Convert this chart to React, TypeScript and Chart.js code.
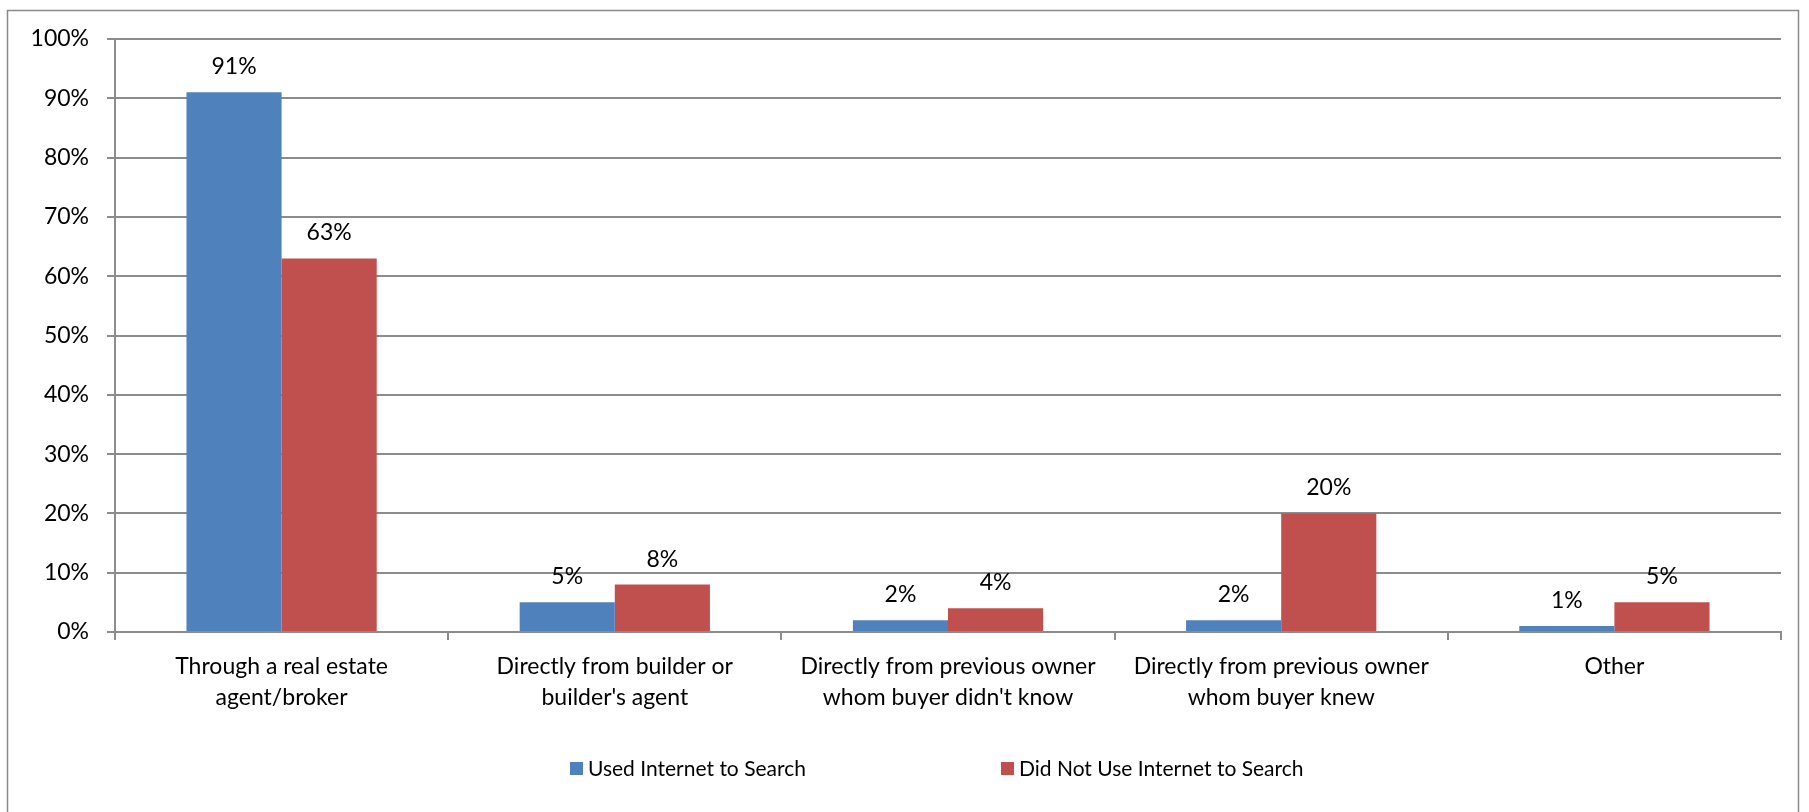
import React, { useEffect, useRef } from "react";
import { Chart, registerables } from "chart.js";

Chart.register(...registerables);

const categories: string[][] = [
  ["Through a real estate", "agent/broker"],
  ["Directly from builder or", "builder's agent"],
  ["Directly from previous owner", "whom buyer didn't know"],
  ["Directly from previous owner", "whom buyer knew"],
  ["Other"],
];
const seriesNames = ["Used Internet to Search", "Did Not Use Internet to Search"];
const usedInternet = [91, 5, 2, 2, 1];
const didNotUseInternet = [63, 8, 4, 20, 5];
const seriesColors = ["#4F81BD", "#C0504D"];
const yMin = 0;
const yMax = 100;
const yStep = 10;

const FONT = "Lato, 'Open Sans', sans-serif";
const GRID = "#8c8c8c";

const framePlugin = {
  id: "frame",
  beforeDraw(chart: any) {
    const ctx = chart.ctx;
    ctx.save();
    ctx.fillStyle = "#ffffff";
    ctx.fillRect(0, 0, chart.width, chart.height);
    ctx.strokeStyle = "#8a8a8a";
    ctx.lineWidth = 1.5;
    ctx.strokeRect(7.5, 10.5, 1791, 812);
    ctx.restore();
  },
};

const valueLabelPlugin = {
  id: "valueLabels",
  afterDatasetsDraw(chart: any) {
    const ctx = chart.ctx;
    ctx.save();
    ctx.font = `23px ${FONT}`;
    ctx.fillStyle = "#000000";
    ctx.textAlign = "center";
    ctx.textBaseline = "alphabetic";
    chart.data.datasets.forEach((ds: any, di: number) => {
      const meta = chart.getDatasetMeta(di);
      meta.data.forEach((bar: any, i: number) => {
        ctx.fillText(`${ds.data[i]}%`, bar.x, bar.y - 18);
      });
    });
    ctx.restore();
  },
};

const customLegendPlugin = {
  id: "customLegend",
  afterDraw(chart: any) {
    const ctx = chart.ctx;
    const starts = [570, 1001];
    ctx.save();
    ctx.font = `21px ${FONT}`;
    ctx.textBaseline = "alphabetic";
    ctx.textAlign = "left";
    chart.data.datasets.forEach((ds: any, i: number) => {
      const x = starts[i];
      ctx.fillStyle = ds.backgroundColor;
      ctx.fillRect(x, 762, 13, 13);
      ctx.fillStyle = "#000000";
      ctx.fillText(ds.label, x + 18, 776);
    });
    ctx.restore();
  },
};

export default function App() {
  const ref = useRef<HTMLCanvasElement | null>(null);

  useEffect(() => {
    if (!ref.current) return;
    const chart = new Chart(ref.current, {
      type: "bar",
      data: {
        labels: categories,
        datasets: [
          {
            label: seriesNames[0],
            data: usedInternet,
            backgroundColor: seriesColors[0],
            barPercentage: 1,
            categoryPercentage: 0.571,
          },
          {
            label: seriesNames[1],
            data: didNotUseInternet,
            backgroundColor: seriesColors[1],
            barPercentage: 1,
            categoryPercentage: 0.571,
          },
        ],
      },
      options: {
        responsive: false,
        animation: false,
        layout: { padding: { top: 39, right: 28, left: 0, bottom: 0 } },
        plugins: {
          legend: { display: false },
          tooltip: { enabled: false },
        },
        scales: {
          x: {
            grid: {
              offset: true,
              drawOnChartArea: false,
              drawTicks: true,
              tickLength: 8,
              color: GRID,
              lineWidth: 2,
            },
            border: { display: true, color: GRID, width: 2 },
            ticks: {
              color: "#000000",
              padding: 11,
              font: { family: FONT, size: 23, lineHeight: 1.35 },
              maxRotation: 0,
              autoSkip: false,
            },
            afterFit(scale: any) {
              scale.height = 812 - 632;
            },
          },
          y: {
            min: yMin,
            max: yMax,
            grid: {
              color: GRID,
              lineWidth: 2,
              drawTicks: true,
              tickLength: 8,
            },
            border: { display: true, color: GRID, width: 2 },
            ticks: {
              stepSize: yStep,
              color: "#000000",
              padding: 18,
              font: { family: FONT, size: 23 },
              callback: (v: any) => `${v}%`,
            },
            afterFit(scale: any) {
              scale.width = 115;
            },
          },
        },
      },
      plugins: [framePlugin, valueLabelPlugin, customLegendPlugin],
    });
    return () => chart.destroy();
  }, []);

  return (
    <div style={{ position: "absolute", left: 0, top: 0, width: 1809, height: 812 }}>
      <canvas ref={ref} width={1809} height={812} style={{ width: 1809, height: 812, display: "block" }} />
    </div>
  );
}
